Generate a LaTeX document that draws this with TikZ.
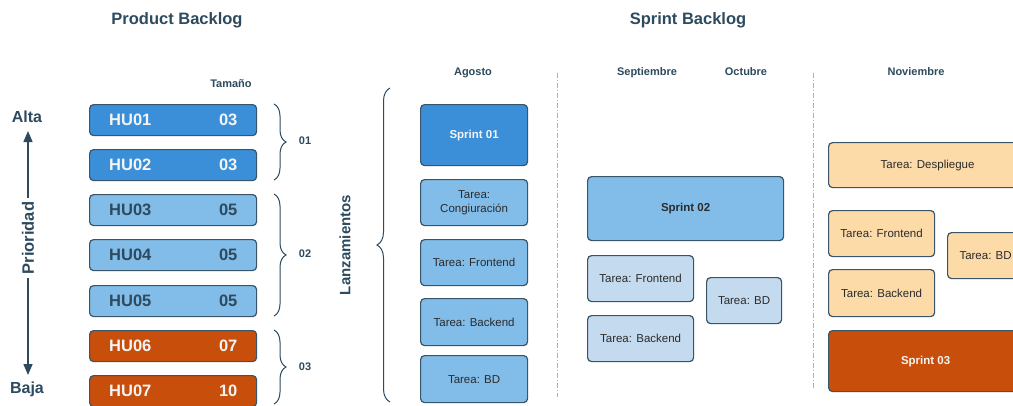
\documentclass[tikz,border=0pt]{standalone}
\usepackage{fontspec}
\setmainfont{Liberation Sans}
\usetikzlibrary{decorations.pathreplacing,arrows.meta}
\definecolor{ink}{HTML}{2D4A5E}
\definecolor{bdr}{HTML}{3A5568}
\definecolor{dblue}{HTML}{3A8FD8}
\definecolor{mblue}{HTML}{82BCE8}
\definecolor{lblue}{HTML}{C4DAEE}
\definecolor{orng}{HTML}{C84E0B}
\definecolor{peach}{HTML}{FCDBA9}
\definecolor{dtext}{HTML}{2B2B2B}
\definecolor{wtext}{HTML}{F4F4F4}
\begin{document}
\begin{tikzpicture}[x=1pt,y=-1pt,
  bx/.style={draw=bdr, line width=1.2pt, rounded corners=4pt, anchor=north west, inner sep=0pt, align=center},
  hubox/.style={bx, minimum width=167pt, minimum height=31pt},
  hutxt/.style={font=\fontsize{16.5}{18}\selectfont\bfseries, inner sep=0pt},
  title/.style={font=\fontsize{16.5}{18}\selectfont\bfseries, text=ink},
  month/.style={font=\fontsize{11}{13}\selectfont\bfseries, text=ink},
  mbase/.style={month, anchor=base},
  task/.style={font=\fontsize{11.5}{13.5}\selectfont, text=dtext},
  sprint/.style={font=\fontsize{11.5}{13.5}\selectfont\bfseries},
  brc/.style={draw=ink, line width=1pt, decorate, decoration={brace, amplitude=12pt}},
  sep/.style={draw=black!30, line width=0.8pt, dash pattern=on 5pt off 2pt on 1pt off 2pt},
  parr/.style={draw=ink, line width=1.5pt, -{Triangle[length=11pt,width=9pt]}}
]
\clip (0,0) rectangle (1013,405);
\fill[white] (0,0) rectangle (1013,405);

% titles
\node[title] (tpb) at (177,20) {Product Backlog};
\node[title] (tsb) at (688,20) {Sprint Backlog};
\node[mbase] (tam) at (231,87) {Tamaño};
\node[mbase] (ago) at (473,75) {Agosto};
\node[mbase] (sep) at (647,75) {Septiembre};
\node[mbase] (oct) at (746,75) {Octubre};
\node[mbase] (nov) at (916,75) {Noviembre};

% priority axis
\node[title, font=\fontsize{16}{18}\selectfont\bfseries] (alta) at (27,117) {Alta};
\node[title, font=\fontsize{16}{18}\selectfont\bfseries] (baja) at (27,389) {Baja};
\node[title, rotate=90, inner sep=4pt] (prio) at (28,238) {Prioridad};
\coordinate (atip) at (28,131);
\coordinate (btip) at (28,375);
\draw[parr] (prio.east) -- (atip);
\draw[parr] (prio.west) -- (btip);

% HU boxes
\node[hubox, fill=dblue] (hu1) at (89,104) {};
\node[hubox, fill=dblue] (hu2) at (89,149) {};
\node[hubox, fill=mblue] (hu3) at (89,194) {};
\node[hubox, fill=mblue] (hu4) at (89,239) {};
\node[hubox, fill=mblue] (hu5) at (89,285) {};
\node[hubox, fill=orng] (hu6) at (89,330) {};
\node[hubox, fill=orng] (hu7) at (89,375) {};
\foreach \n/\id/\sz/\c in {1/HU01/03/wtext,2/HU02/03/wtext,3/HU03/05/ink,4/HU04/05/ink,5/HU05/05/ink,6/HU06/07/wtext,7/HU07/10/wtext}{
  \node[hutxt, text=\c, anchor=west] (hl\n) at ([xshift=20pt]hu\n.west) {\id};
  \node[hutxt, text=\c] (hr\n) at ([xshift=-29pt]hu\n.east) {\sz};
}

% braces and groups
\coordinate (b1t) at (274,104); \coordinate (b1b) at (274,180);
\coordinate (b2t) at (274,194); \coordinate (b2b) at (274,316);
\coordinate (b3t) at (274,330); \coordinate (b3b) at (274,404);
\draw[brc] (b1t) -- (b1b);
\draw[brc] (b2t) -- (b2b);
\draw[brc] (b3t) -- (b3b);
\node[month] (g1) at (305,141) {01};
\node[month] (g2) at (305,254) {02};
\node[month] (g3) at (305,367) {03};

% Lanzamientos
\node[font=\fontsize{15}{17}\selectfont\bfseries, text=ink, rotate=90] (lanz) at (345,245) {Lanzamientos};
\coordinate (lbt) at (390,88); \coordinate (lbb) at (390,402);
\draw[brc, decoration={brace, amplitude=13pt}] (lbb) -- (lbt);

% separators
\coordinate (s1t) at (557,73); \coordinate (s1b) at (557,397);
\coordinate (s2t) at (813,73); \coordinate (s2b) at (813,390);
\draw[sep] (s1t) -- (s1b);
\draw[sep] (s2t) -- (s2b);

% Agosto
\node[bx, fill=dblue, minimum width=107pt, minimum height=61pt, sprint, text=wtext] (sp1) at (420,104) {Sprint 01};
\node[bx, fill=mblue, minimum width=107pt, minimum height=46pt, task] (a1) at (420,179) {Tarea:\\Congiuración};
\node[bx, fill=mblue, minimum width=107pt, minimum height=46pt, task] (a2) at (420,239) {Tarea: Frontend};
\node[bx, fill=mblue, minimum width=107pt, minimum height=47pt, task] (a3) at (420,298) {Tarea: Backend};
\node[bx, fill=mblue, minimum width=107pt, minimum height=47pt, task] (a4) at (420,355) {Tarea: BD};

% Septiembre / Octubre
\node[bx, fill=mblue, minimum width=196pt, minimum height=64pt, sprint, text=dtext] (sp2) at (587,176) {Sprint 02};
\node[bx, fill=lblue, minimum width=106pt, minimum height=46pt, task] (s1) at (587,255) {Tarea: Frontend};
\node[bx, fill=lblue, minimum width=106pt, minimum height=46pt, task] (s2) at (587,315) {Tarea: Backend};
\node[bx, fill=lblue, minimum width=75pt, minimum height=46pt, task] (s3) at (706,277) {Tarea: BD};

% Noviembre
\node[bx, fill=peach, minimum width=198pt, minimum height=45pt, task] (n0) at (828,142) {Tarea: Despliegue};
\node[bx, fill=peach, minimum width=106pt, minimum height=46pt, task] (n1) at (828,210) {Tarea: Frontend};
\node[bx, fill=peach, minimum width=106pt, minimum height=47pt, task] (n2) at (828,269) {Tarea: Backend};
\node[bx, fill=peach, minimum width=76pt, minimum height=46pt, task] (n3) at (947,232) {Tarea: BD};
\node[bx, fill=orng, minimum width=194pt, minimum height=61pt, sprint, text=wtext] (sp3) at (828,330) {Sprint 03};
\end{tikzpicture}
\end{document}
